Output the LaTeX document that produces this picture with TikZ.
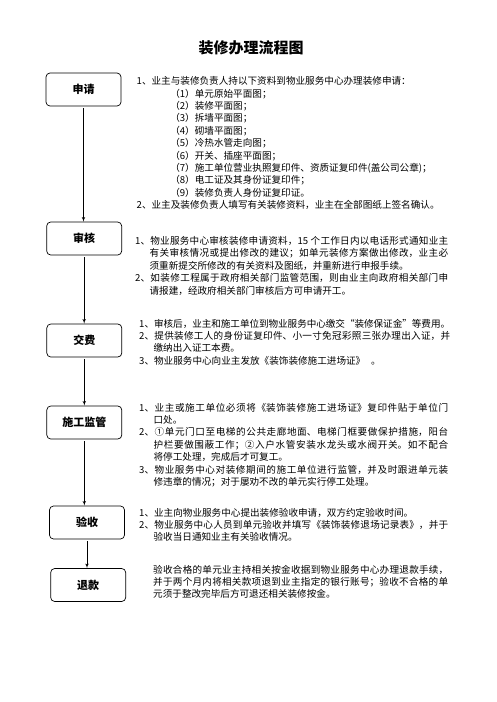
\documentclass[tikz,border=0pt]{standalone}
\usepackage{fontspec}
\setmainfont{Noto Sans CJK SC}
\usetikzlibrary{arrows}
\usetikzlibrary{positioning}
\XeTeXlinebreaklocale "zh"
\XeTeXlinebreakskip = 0pt plus 1pt minus 0.4pt
\tikzset{stepbox/.style = {draw, line width = 0.7, rounded corners = 4,
                           minimum width = 75, minimum height = 33, inner sep = 0,
                           font = \fontsize{11}{13}\selectfont\bfseries}}
\tikzset{desc/.style = {anchor = base west, inner sep = 0, align = justify,
                        font = \fontsize{9.6}{12.4}\selectfont}}
\tikzset{flow/.style = {-latex', line width = 0.6, shorten <= 2}}
\newcommand{\firstpar}{\hangindent=1.5em\hangafter=1\noindent}
\newcommand{\numpar}{\par\firstpar}
\newcommand{\subpar}{\par\noindent\hspace*{3.5em}}
\begin{document}
\begin{tikzpicture}[x = 1pt, y = -1pt]
          \useasboundingbox (0, 0) rectangle (496, 702);
          \node (title) at (251, 48) {\fontsize{15}{18}\selectfont\bfseries 装修办理流程图};
          \node [stepbox] (apply) at (83.5, 89.5) {申请};
          \node [stepbox] (review) at (84.2, 238.5) {审核};
          \node [stepbox] (fee) at (84.3, 340.5) {交费};
          \node [stepbox] (supervise) at (84.3, 422.5) {施工监管};
          \node [stepbox] (accept) at (87, 522.5) {验收};
          \node [stepbox] (refund) at (88.2, 585) {退款};
          \draw [flow] (apply) -- (apply |- review.north);
          \draw [flow] (review) -- (review |- fee.north);
          \draw [flow] (fee) -- (fee |- supervise.north);
          \draw [flow] (supervise) -- (supervise |- accept.north);
          \draw [flow] (accept) -- (accept |- refund.north);
          \node [desc, text width = 320] (applytext) at (136.5, 84.7) {%
            \firstpar 1、业主与装修负责人持以下资料到物业服务中心办理装修申请：
            \subpar （1）单元原始平面图；
            \subpar （2）装修平面图；
            \subpar （3）拆墙平面图；
            \subpar （4）砌墙平面图；
            \subpar （5）冷热水管走向图；
            \subpar （6）开关、插座平面图；
            \subpar （7）施工单位营业执照复印件、资质证复印件(盖公司公章)；
            \subpar （8）电工证及其身份证复印件；
            \subpar （9）装修负责人身份证复印证。
            \numpar 2、业主及装修负责人填写有关装修资料，业主在全部图纸上签名确认。\par};
          \node [desc, text width = 313] (reviewtext) at (135, 244.4) {%
            \firstpar 1、物业服务中心审核装修申请资料，15 个工作日内以电话形式通知业主\linebreak
            有关审核情况或提出修改的建议；如单元装修方案做出修改，业主必\linebreak
            须重新提交所修改的有关资料及图纸，并重新进行申报手续。
            \numpar 2、如装修工程属于政府相关部门监管范围，则由业主向政府相关部门申\linebreak
            请报建，经政府相关部门审核后方可申请开工。\par};
          \node [desc, text width = 311] (feetext) at (139, 327) {%
            \firstpar 1、审核后，业主和施工单位到物业服务中心缴交“装修保证金”等费用。
            \numpar 2、提供装修工人的身份证复印件、小一寸免冠彩照三张办理出入证，并\linebreak
            缴纳出入证工本费。
            \numpar 3、物业服务中心向业主发放《装饰装修施工进场证》\hspace{0.6em}。\par};
          \node [desc, text width = 309] (supervisetext) at (139, 411) {%
            \firstpar 1、业主或施工单位必须将《装饰装修施工进场证》复印件贴于单位门\linebreak
            口处。
            \numpar 2、①单元门口至电梯的公共走廊地面、电梯门框要做保护措施，阳台\linebreak
            护栏要做围蔽工作；②入户水管安装水龙头或水阀开关。如不配合\linebreak
            将停工处理，完成后才可复工。
            \numpar 3、物业服务中心对装修期间的施工单位进行监管，并及时跟进单元装\linebreak
            修违章的情况；对于屡劝不改的单元实行停工处理。\par};
          \node [desc, text width = 309] (accepttext) at (139, 516) {%
            \firstpar 1、业主向物业服务中心提出装修验收申请，双方约定验收时间。
            \numpar 2、物业服务中心人员到单元验收并填写《装饰装修退场记录表》，并于\linebreak
            验收当日通知业主有关验收情况。\par};
          \node [desc, text width = 295] (refundtext) at (153, 573) {%
            \noindent 验收合格的单元业主持相关按金收据到物业服务中心办理退款手续，\linebreak
            并于两个月内将相关款项退到业主指定的银行账号；验收不合格的单\linebreak
            元须于整改完毕后方可退还相关装修按金。};
        \end{tikzpicture}
\end{document}
